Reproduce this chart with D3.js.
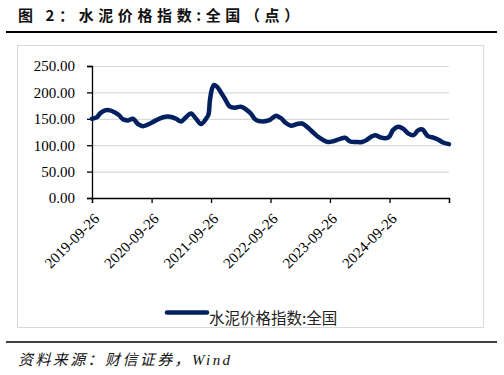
<!DOCTYPE html>
<meta charset="utf-8">
<style>
body { margin: 0; background: #fff; }
svg { display: block; }
</style>
<body>
<script src="https://d3js.org/d3.v7.min.js"></script>
<script>

// data: dates and index values
var dates = ["2019-09-26","2019-10-27","2019-11-14","2019-12-15","2020-01-14","2020-02-14","2020-03-10","2020-04-03","2020-05-05","2020-06-04","2020-07-05","2020-08-04","2020-09-17","2020-10-23","2020-12-05","2021-01-17","2021-02-23","2021-03-26","2021-04-25","2021-05-25","2021-06-26","2021-07-26","2021-08-26","2021-09-10","2021-09-19","2021-10-02","2021-10-14","2021-11-01","2021-11-26","2021-12-20","2022-01-20","2022-02-20","2022-03-28","2022-04-28","2022-05-28","2022-06-28","2022-08-10","2022-09-23","2022-10-30","2022-11-30","2022-12-30","2023-01-30","2023-03-08","2023-04-08","2023-05-15","2023-06-15","2023-07-15","2023-08-15","2023-09-15","2023-10-20","2023-11-28","2023-12-28","2024-01-28","2024-03-05","2024-04-10","2024-05-10","2024-06-05","2024-06-30","2024-07-30","2024-08-30","2024-09-24","2024-10-18","2024-11-18","2024-12-20","2025-01-20","2025-02-20","2025-03-20","2025-04-15","2025-05-20","2025-06-26","2025-07-26","2025-08-20","2025-09-26"];
var values = [150,153,160,166,166,162,157,149,147,150,140,136,141,147,153,154,150,145,153,160,150,140,150,158,185,207,214,211,200,188,173,171,173,168,160,148,145,148,156,151,142,137,140,141,133,124,116,110,106,108,112,114,107,106,106,110,116,119,115,113,116,129,135,131,122,119,128,130,117,114,110,105,102];
var tickDates = ["2019-09-26","2020-09-26","2021-09-26","2022-09-26","2023-09-26","2024-09-26"];
var yTicks = [0, 50, 100, 150, 200, 250];

var W = 504, H = 375;
var parse = d3.timeParse("%Y-%m-%d");
var navy = "#002060";
var serif = "'Times New Roman', 'Liberation Serif', serif";

var svg = d3.select("body").append("svg")
    .attr("width", W)
    .attr("height", H);

svg.append("rect").attr("width", W).attr("height", H).attr("fill", "#fff");

// title and rules
svg.append("text")
    .attr("x", 18).attr("y", 21)
    .style("font-family", "'Noto Sans CJK SC', sans-serif")
    .style("font-weight", "bold")
    .style("font-size", "15px")
    .style("letter-spacing", "4.6px")
    .attr("fill", "#111")
    .text("图 2：水泥价格指数:全国（点）");

svg.append("line").attr("x1", 6).attr("x2", 497).attr("y1", 32).attr("y2", 32)
    .attr("stroke", "#000").attr("stroke-width", 2);
svg.append("line").attr("x1", 6).attr("x2", 497).attr("y1", 342).attr("y2", 342)
    .attr("stroke", "#000").attr("stroke-width", 1.5);

// chart frame
svg.append("rect")
    .attr("x", 17.5).attr("y", 45.5).attr("width", 466).attr("height", 282)
    .attr("fill", "none").attr("stroke", "#d9d9d9");

// scales
var x = d3.scaleTime()
    .domain([parse("2019-09-26"), parse("2025-09-26")])
    .range([92, 449]);
var y = d3.scaleLinear()
    .domain([0, 250])
    .range([198, 66]);

// gridlines
svg.append("g").selectAll("line")
    .data(yTicks.slice(1))
    .enter().append("line")
    .attr("x1", x.range()[0]).attr("x2", x.range()[1])
    .attr("y1", function(d) { return y(d) + 0.5; })
    .attr("y2", function(d) { return y(d) + 0.5; })
    .attr("stroke", "#d9d9d9").attr("stroke-width", 1.2);

// y axis
var yAxis = svg.append("g")
    .attr("transform", "translate(92,0)")
    .attr("font-family", null)
    .call(d3.axisLeft(y).tickValues(yTicks).tickSize(5).tickPadding(12)
        .tickFormat(function(d) { return d.toFixed(2); }));
yAxis.attr("font-family", serif).attr("font-size", 15);
yAxis.select(".domain").attr("stroke", "#000").attr("stroke-width", 1.3);
yAxis.selectAll(".tick line").attr("stroke", "#000").attr("stroke-width", 1.3);
yAxis.selectAll("text").attr("fill", "#000");

// x axis
var xAxis = svg.append("g")
    .attr("transform", "translate(0,198)")
    .call(d3.axisBottom(x).tickValues(tickDates.map(parse).concat([x.domain()[1]]))
        .tickSize(5).tickFormat(function(d, i) { return i < tickDates.length ? tickDates[i] : ""; }));
xAxis.attr("font-family", serif).attr("font-size", 15);
xAxis.select(".domain").attr("stroke", "#000").attr("stroke-width", 1.3);
xAxis.selectAll(".tick line").attr("stroke", "#000").attr("stroke-width", 1.3);
xAxis.selectAll("text")
    .attr("fill", "#000")
    .attr("text-anchor", "end")
    .attr("x", 0).attr("y", 0).attr("dy", "0.35em")
    .attr("transform", "translate(4,18) rotate(-45)");

// the series
var line = d3.line()
    .x(function(d, i) { return x(parse(dates[i])); })
    .y(function(d) { return y(d); })
    .curve(d3.curveCatmullRom);

svg.append("path")
    .datum(values)
    .attr("d", line)
    .attr("fill", "none")
    .attr("stroke", navy)
    .attr("stroke-width", 4.5)
    .attr("stroke-linejoin", "round")
    .attr("stroke-linecap", "round");

// legend
svg.append("line")
    .attr("x1", 167).attr("x2", 207).attr("y1", 312.5).attr("y2", 312.5)
    .attr("stroke", navy).attr("stroke-width", 4.5).attr("stroke-linecap", "round");
svg.append("text")
    .attr("x", 209).attr("y", 324)
    .style("font-family", "'Noto Sans CJK SC', sans-serif")
    .style("font-size", "15.5px")
    .attr("fill", "#222")
    .text("水泥价格指数:全国");

// source note
svg.append("text")
    .attr("x", 18).attr("y", 365)
    .style("font-family", serif + ", 'Noto Sans CJK SC'")
    .style("font-style", "italic")
    .style("font-size", "15px")
    .style("letter-spacing", "2.4px")
    .attr("fill", "#111")
    .text("资料来源：财信证券，Wind");

</script>
</body>
